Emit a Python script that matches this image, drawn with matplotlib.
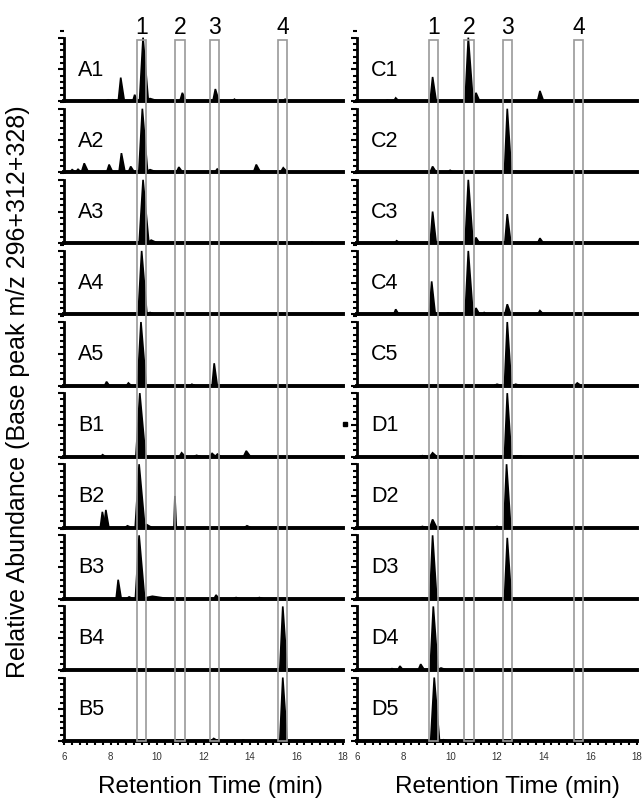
import matplotlib
matplotlib.use('Agg')
import matplotlib.pyplot as plt
from matplotlib.patches import Rectangle
from matplotlib.ticker import MultipleLocator
import matplotlib.transforms as mtransforms

plt.rcParams['font.family'] = ['Liberation Sans', 'DejaVu Sans']

#-----------------------------------
# Chromatogram peaks: (retention time [min], relative height [%], base width [min])
labels_left = ['A1', 'A2', 'A3', 'A4', 'A5', 'B1', 'B2', 'B3', 'B4', 'B5']
labels_right = ['C1', 'C2', 'C3', 'C4', 'C5', 'D1', 'D2', 'D3', 'D4', 'D5']

peaks = {
    'A1': [(7.9, 2, 0.3), (8.1, 2, 0.2), (8.44, 37, 0.26), (9.04, 10, 0.2), (9.40, 100, 0.38),
           (9.7, 4, 0.6), (11.09, 13, 0.26), (12.51, 19, 0.26), (13.33, 3, 0.2), (15.51, 3, 0.2)],
    'A2': [(6.35, 4, 0.25), (6.6, 5, 0.2), (6.87, 14, 0.3), (7.94, 12, 0.26), (8.47, 30, 0.26),
           (8.87, 9, 0.26), (9.37, 100, 0.38), (9.7, 4, 0.5), (10.94, 8, 0.26), (12.59, 5, 0.26),
           (14.27, 12, 0.3), (15.43, 7, 0.3)],
    'A3': [(9.40, 100, 0.42), (9.75, 5, 0.5), (16.66, 2, 0.2)],
    'A4': [(9.34, 100, 0.38), (9.7, 3, 0.4)],
    'A5': [(7.83, 6, 0.2), (8.77, 4, 0.2), (9.31, 100, 0.38), (11.5, 2, 0.2), (12.46, 35, 0.22)],
    'B1': [(7.66, 3, 0.2), (9.26, 100, 0.42), (11.06, 6, 0.26), (11.7, 2, 0.3), (12.37, 5, 0.26),
           (12.6, 4, 0.26), (13.84, 9, 0.3)],
    'B2': [(7.65, 25, 0.22), (7.8, 28, 0.22), (8.73, 3, 0.3), (9.23, 100, 0.42), (9.55, 5, 0.4),
           (10.77, 50, 0.1), (13.87, 3, 0.3)],
    'B3': [(8.33, 30, 0.22), (8.8, 3, 0.3), (9.23, 100, 0.4), (9.8, 4, 1.2), (12.54, 6, 0.22),
           (13.4, 2, 0.3), (14.4, 2, 0.3)],
    'B4': [(15.41, 100, 0.32)],
    'B5': [(12.44, 4, 0.3), (13.7, 1.5, 0.2), (15.41, 100, 0.32)],
    'C1': [(7.3, 1.5, 0.3), (7.66, 5, 0.22), (9.24, 38, 0.26), (10.77, 100, 0.34), (11.1, 13, 0.26),
           (12.4, 1.5, 0.2), (13.84, 16, 0.26)],
    'C2': [(9.24, 9, 0.26), (9.99, 3, 0.22), (12.44, 100, 0.3), (12.8, 1.5, 0.2)],
    'C3': [(7.70, 4, 0.26), (8.4, 1.5, 0.3), (9.24, 50, 0.26), (10.77, 100, 0.34), (11.1, 9, 0.26),
           (12.44, 46, 0.26), (13.84, 8, 0.26)],
    'C4': [(7.66, 8, 0.22), (9.2, 52, 0.26), (9.9, 2, 0.4), (10.77, 100, 0.34), (11.1, 10, 0.26),
           (11.45, 3, 0.2), (12.44, 16, 0.26), (13.84, 6, 0.26)],
    'C5': [(12.0, 2, 0.3), (12.44, 100, 0.3), (12.8, 2, 0.3), (15.44, 4, 0.26)],
    'D1': [(8.8, 1.5, 0.3), (9.24, 6, 0.3), (12.44, 100, 0.3), (12.9, 1, 0.3)],
    'D2': [(8.8, 2, 0.3), (9.24, 13, 0.3), (12.0, 2, 0.3), (12.41, 100, 0.3)],
    'D3': [(8.8, 1.5, 0.3), (9.24, 100, 0.3), (12.44, 96, 0.3)],
    'D4': [(7.5, 2, 0.2), (7.84, 6, 0.22), (8.73, 9, 0.26), (9.27, 100, 0.34), (9.6, 3, 0.4)],
    'D5': [(9.31, 100, 0.38), (9.7, 2, 0.4)],
}

# grey windows marking compounds 1-4 (start, end in min)
boxes_left = [(9.16, 9.54), (10.79, 11.19), (12.26, 12.66), (15.21, 15.61)]
boxes_right = [(9.09, 9.46), (10.60, 11.01), (12.24, 12.63), (15.30, 15.67)]
box_names = ['1', '2', '3', '4']

#-----------------------------------
W, H = 644., 798.
fig = plt.figure(figsize=(W / 100, H / 100), dpi=100)

row_h = 71.1
bottom_base = 741.
x_left = [64., 357.]
x_width = [279., 280.]


def style_axis(ax, last):
    ax.set_xlim(6, 18)
    ax.set_ylim(0, 112)
    for s in ['top', 'right']:
        ax.spines[s].set_visible(False)
    ax.spines['bottom'].set_linewidth(2.8)
    ax.spines['left'].set_linewidth(2.0)
    ax.spines['left'].set_bounds(0, 100)
    ax.yaxis.set_major_locator(MultipleLocator(50))
    ax.yaxis.set_minor_locator(MultipleLocator(10))
    ax.tick_params(axis='y', which='major', direction='out', length=4.5, width=1.5, labelleft=False)
    ax.tick_params(axis='y', which='minor', direction='out', length=3, width=1.5)
    ax.xaxis.set_major_locator(MultipleLocator(2))
    ax.xaxis.set_minor_locator(MultipleLocator(1 / 3.))
    if last:
        ax.tick_params(axis='x', which='major', direction='out', length=3, width=1.5,
                       labelsize=7, labelcolor='#333333', pad=5)
        ax.tick_params(axis='x', which='minor', direction='out', length=3, width=1.5)
    else:
        ax.tick_params(axis='x', which='both', bottom=False, labelbottom=False)
    ax.patch.set_alpha(0)


bottom_axes = []
for col, names in enumerate([labels_left, labels_right]):
    for i, name in enumerate(names):
        base_y = bottom_base - (9 - i) * row_h
        ax = fig.add_axes([x_left[col] / W, (H - base_y) / H, x_width[col] / W, row_h / H])
        style_axis(ax, i == 9)
        for rt, h, w in peaks[name]:
            ax.fill([rt - 0.4 * w, rt, rt + 0.6 * w], [0, h, 0], color='black', lw=1.2)
        ax.text(14 / x_width[col], 0.36, name, transform=ax.transAxes,
                fontsize=15.5, va='baseline', ha='left')
        if i == 9:
            bottom_axes.append(ax)

#-----------------------------------
# compound windows spanning all rows
box_top = (H - 40) / H
box_bot = (H - bottom_base) / H
for ax, boxes in zip(bottom_axes, [boxes_left, boxes_right]):
    trans = mtransforms.blended_transform_factory(ax.transData, fig.transFigure)
    for (t0, t1), nm in zip(boxes, box_names):
        fig.add_artist(Rectangle((t0, box_bot), t1 - t0, box_top - box_bot, transform=trans,
                                 fill=False, edgecolor='#999999', lw=1.2, zorder=5))
        fig.text((t0 + t1) / 2, (H - 28) / H, nm, transform=trans, fontsize=16.5,
                 ha='center', va='center')

# small stray mark between the columns
fig.add_artist(Rectangle((343 / W, (H - 426) / H), 4 / W, 4 / H, transform=fig.transFigure,
                         color='black', zorder=5))

fig.text(18 / W, (H - 392) / H, 'Relative Abundance (Base peak m/z 296+312+328)',
         rotation=90, ha='center', va='center', fontsize=18)
fig.text(210 / W, (H - 787) / H, 'Retention Time (min)', ha='center', va='center', fontsize=17.5)
fig.text(507 / W, (H - 787) / H, 'Retention Time (min)', ha='center', va='center', fontsize=17.5)

plt.savefig('out.png', dpi=100)
